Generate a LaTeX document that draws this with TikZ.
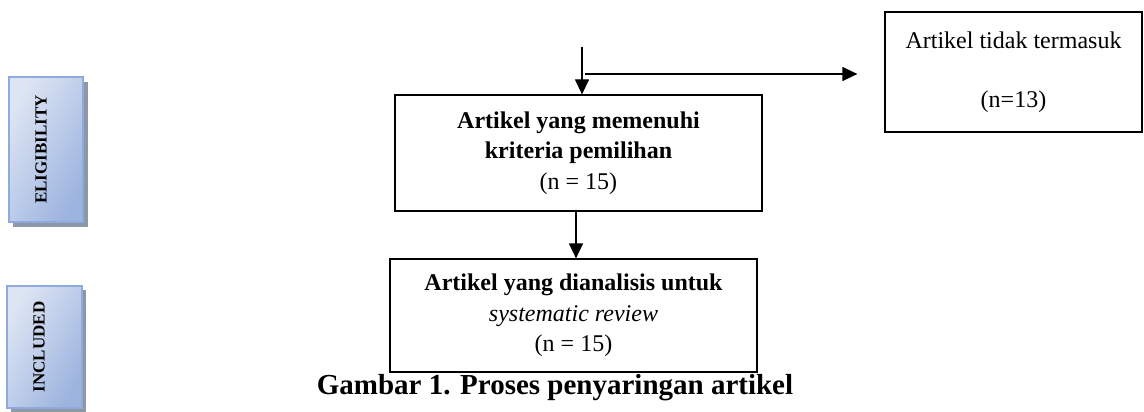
\documentclass[tikz,border=0pt]{standalone}
\usepackage{fontspec}
\setmainfont{Liberation Serif}
\usetikzlibrary{arrows.meta}
\definecolor{sideL}{HTML}{DDE5F3}
\definecolor{sideD}{HTML}{9DB4DF}
\definecolor{sideB}{HTML}{8FAADC}
\definecolor{shadowC}{HTML}{8E97A8}
\tikzset{
  flowbox/.style={draw=black, line width=1.2pt, align=center, inner sep=0pt,
    font=\fontsize{24}{30.5}\selectfont},
  sidebox/.style={draw=sideB, line width=1.5pt, inner sep=0pt,
    left color=sideL, right color=sideD, shading angle=60},
  sidetext/.style={rotate=90, font=\fontsize{17}{20}\selectfont\bfseries},
  flowarrow/.style={line width=1.2pt, -{Triangle[length=15pt,width=14pt]}},
}
\begin{document}
\begin{tikzpicture}[x=1pt,y=-1pt]
\useasboundingbox (0,0) rectangle (1144,412);
% side labels with shadows
\fill[shadowC] (13,82) rectangle (88,227);
\node[sidebox, minimum width=74pt, minimum height=145pt] (elig) at (46,149.5) {};
\node[sidetext] (eligt) at (41,149.5) {ELIGIBILITY};
\fill[shadowC] (11,290) rectangle (86,412);
\node[sidebox, minimum width=75pt, minimum height=122pt] (incl) at (44.5,347) {};
\node[sidetext] (inclt) at (39,347) {INCLUDED};
% flow boxes
\node[flowbox, minimum width=367pt, minimum height=116pt] (b1) at (578.5,153)
  {\textbf{Artikel yang memenuhi}\\\textbf{kriteria pemilihan}\\(n = 15)};
\node[flowbox, minimum width=367pt, minimum height=113pt] (b2) at (573.5,315.5)
  {\textbf{Artikel yang dianalisis untuk}\\\textit{systematic review}\\(n = 15)};
\node[flowbox, minimum width=257pt, minimum height=120pt] (ex) at (1013.5,72)
  {Artikel tidak termasuk\\[29pt](n=13)};
% connectors
\coordinate (top) at (582,47);
\coordinate (hs) at (585,74);
\draw[flowarrow] (top) -- (top |- b1.north);
\draw[flowarrow] (hs) -- ([xshift=-27pt]ex.west |- hs);
\draw[flowarrow] (b2.north -| 576,0) ++(0,-48) -- (b2.north -| 576,0);
% caption
\node[font=\fontsize{29}{32}\selectfont\bfseries] (cap) at (555,388) {Gambar 1. Proses penyaringan artikel};
\end{tikzpicture}
\end{document}
